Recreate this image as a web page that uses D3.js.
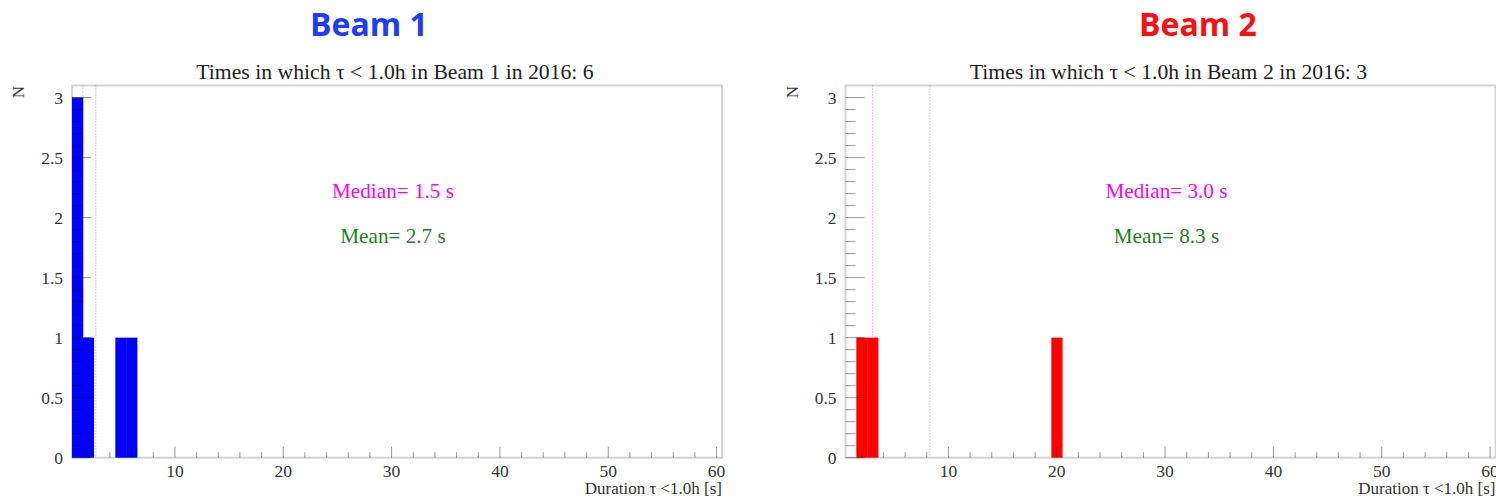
<!DOCTYPE html>
<html>
<head>
<meta charset="utf-8">
<script src="https://cdn.jsdelivr.net/npm/d3@7"></script>
<style>
  html, body { margin: 0; padding: 0; background: #fff; }
  svg { display: block; }
</style>
</head>
<body>
<svg id="chart" width="1496" height="499"></svg>
<script>
// Histogram contents: bin centres (1 s wide bins) and entries per bin
const beam1Bins = [1, 2, 5, 6];
const beam1Counts = [3, 1, 1, 1];
const beam2Bins = [2, 3, 20];
const beam2Counts = [1, 1, 1];

// Summary statistics shown on each panel
const beam1Median = 1.5, beam1Mean = 2.7, beam1Total = 6;
const beam2Median = 3.0, beam2Mean = 8.3, beam2Total = 3;

// Axis ranges and tick labels
const xRange = [0.5, 60.5];
const yRange = [0, 3.1];
const xMajorTicks = [10, 20, 30, 40, 50, 60];
const yMajorTicks = [0, 0.5, 1, 1.5, 2, 2.5, 3];
const yTickLabels = ["0", "0.5", "1", "1.5", "2", "2.5", "3"];

const panels = [
  { name: "Beam 1", bins: beam1Bins, counts: beam1Counts, median: beam1Median, mean: beam1Mean,
    total: beam1Total, color: "#0000ff", titleColor: "#1d3cfb", left: 72, titleX: 369 },
  { name: "Beam 2", bins: beam2Bins, counts: beam2Counts, median: beam2Median, mean: beam2Mean,
    total: beam2Total, color: "#ff0000", titleColor: "#fb1010", left: 845.5, titleX: 1198 }
];

const svg = d3.select("#chart");
const frameW = 650, frameTop = 85.5, frameBottom = 457.7;
const serif = "'Liberation Serif', 'Times New Roman', serif";

panels.forEach(p => {
  const x = d3.scaleLinear().domain(xRange).range([p.left, p.left + frameW]);
  const y = d3.scaleLinear().domain(yRange).range([frameBottom, frameTop]);
  const g = svg.append("g");

  // Slide heading
  g.append("text")
    .attr("x", p.titleX).attr("y", 36)
    .attr("text-anchor", "middle")
    .attr("font-family", "'Open Sans', sans-serif")
    .attr("font-weight", 700)
    .attr("font-size", 32)
    .attr("fill", p.titleColor)
    .text(p.name);

  // Histogram title
  g.append("text")
    .attr("x", p.left + 323).attr("y", 79)
    .attr("text-anchor", "middle")
    .attr("font-family", serif)
    .attr("font-size", 21.7)
    .attr("fill", "#222")
    .text(`Times in which \u03c4 < 1.0h in ${p.name} in 2016: ${p.total}`);

  // Frame
  g.append("rect")
    .attr("x", x.range()[0]).attr("y", frameTop)
    .attr("width", frameW).attr("height", frameBottom - frameTop)
    .attr("fill", "none")
    .attr("stroke", "#d4d4d4")
    .attr("stroke-width", 2);

  // Median and mean markers (behind the bars)
  g.append("line")
    .attr("x1", x(p.median)).attr("x2", x(p.median))
    .attr("y1", frameTop).attr("y2", frameBottom)
    .attr("stroke", "#ff66ff").attr("stroke-width", 1)
    .attr("stroke-dasharray", "1,2");
  g.append("line")
    .attr("x1", x(p.mean)).attr("x2", x(p.mean))
    .attr("y1", frameTop).attr("y2", frameBottom)
    .attr("stroke", "#77b877").attr("stroke-width", 1)
    .attr("stroke-dasharray", "1,2");

  // Bars
  g.selectAll("rect.bar")
    .data(p.bins.map((b, i) => ({ b, c: p.counts[i] })))
    .join("rect")
    .attr("class", "bar")
    .attr("x", d => x(d.b - 0.5))
    .attr("width", d => x(d.b + 0.5) - x(d.b - 0.5) + 0.4)
    .attr("y", d => y(d.c))
    .attr("height", d => y(0) - y(d.c))
    .attr("fill", p.color);

  // Y axis ticks (drawn inside the frame, on top of the bars)
  const yMinor = d3.range(0, 31).map(i => i / 10);
  const yAxis = g.append("g").attr("transform", `translate(${p.left},0)`);
  yAxis.selectAll("line")
    .data(yMinor)
    .join("line")
    .attr("x1", 0).attr("x2", d => (Math.round(d * 10) % 5 === 0 ? 19 : 10))
    .attr("y1", d => y(d)).attr("y2", d => y(d))
    .attr("stroke", "#000").attr("stroke-opacity", 0.4);
  yAxis.selectAll("text")
    .data(yMajorTicks)
    .join("text")
    .attr("x", -9).attr("y", d => y(d))
    .attr("dy", "0.35em")
    .attr("text-anchor", "end")
    .attr("font-family", serif)
    .attr("font-size", 17.5)
    .attr("fill", "#333")
    .text((d, i) => yTickLabels[i]);

  // X axis ticks
  const xMinor = d3.range(2, 61, 2);
  const xAxis = g.append("g");
  xAxis.selectAll("line")
    .data(xMinor)
    .join("line")
    .attr("x1", d => x(d)).attr("x2", d => x(d))
    .attr("y1", frameBottom)
    .attr("y2", d => frameBottom - (d % 10 === 0 ? 11 : 5.5))
    .attr("stroke", "#000").attr("stroke-opacity", 0.4);
  xAxis.selectAll("text")
    .data(xMajorTicks)
    .join("text")
    .attr("x", d => x(d)).attr("y", 477)
    .attr("text-anchor", "middle")
    .attr("font-family", serif)
    .attr("font-size", 17.5)
    .attr("fill", "#333")
    .text(d => d);

  // Axis titles
  g.append("text")
    .attr("x", p.left + frameW).attr("y", 494)
    .attr("text-anchor", "end")
    .attr("font-family", serif)
    .attr("font-size", 17)
    .attr("fill", "#333")
    .text("Duration \u03c4 <1.0h [s]");
  g.append("text")
    .attr("transform", `translate(${p.left - 48},92) rotate(-90)`)
    .attr("text-anchor", "middle")
    .attr("font-family", serif)
    .attr("font-size", 17)
    .attr("fill", "#333")
    .text("N");

  // Statistics labels
  g.append("text")
    .attr("x", p.left + 321).attr("y", 198)
    .attr("text-anchor", "middle")
    .attr("font-family", serif)
    .attr("font-size", 21.2)
    .attr("fill", "#ff00ff")
    .text(`Median= ${p.median.toFixed(1)} s`);
  g.append("text")
    .attr("x", p.left + 321).attr("y", 243)
    .attr("text-anchor", "middle")
    .attr("font-family", serif)
    .attr("font-size", 21.2)
    .attr("fill", "#1f7f1f")
    .text(`Mean= ${p.mean.toFixed(1)} s`);
});
</script>
</body>
</html>
